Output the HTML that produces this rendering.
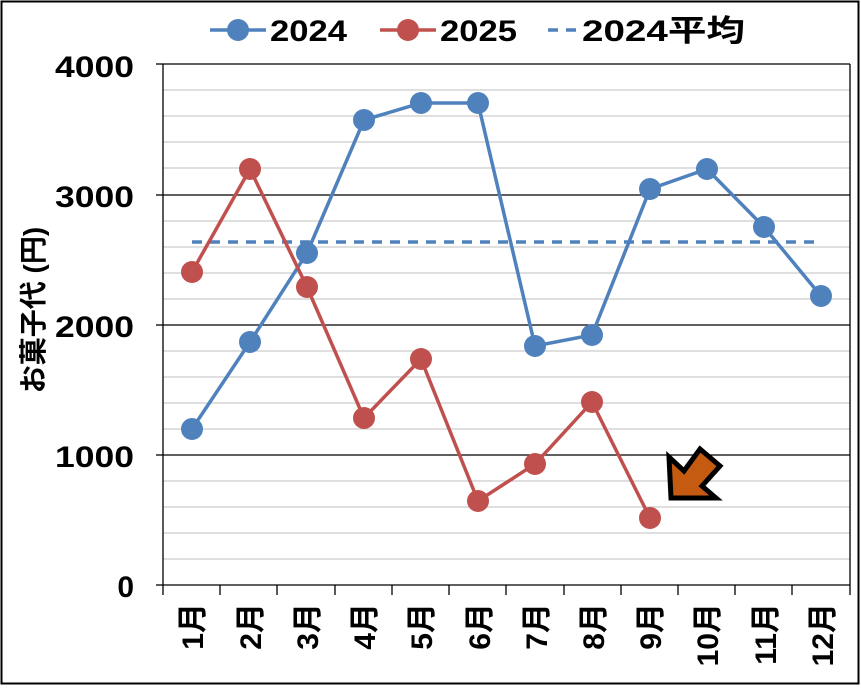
<!DOCTYPE html>
<html><head><meta charset="utf-8"><style>body{margin:0;background:#fff}</style></head><body>
<svg width="861" height="686" xmlns="http://www.w3.org/2000/svg" font-family="Liberation Sans, Noto Sans CJK JP, sans-serif" font-weight="bold">
<rect x="1.5" y="1.5" width="857" height="682" fill="#fff" stroke="#000" stroke-width="2"/>
<g stroke="#bfbfbf" stroke-width="1">
<line x1="163" x2="850" y1="90" y2="90"/><line x1="163" x2="850" y1="116" y2="116"/><line x1="163" x2="850" y1="142" y2="142"/><line x1="163" x2="850" y1="168" y2="168"/>
<line x1="163" x2="850" y1="221" y2="221"/><line x1="163" x2="850" y1="247" y2="247"/><line x1="163" x2="850" y1="273" y2="273"/><line x1="163" x2="850" y1="299" y2="299"/>
<line x1="163" x2="850" y1="351" y2="351"/><line x1="163" x2="850" y1="377" y2="377"/><line x1="163" x2="850" y1="403" y2="403"/><line x1="163" x2="850" y1="429" y2="429"/>
<line x1="163" x2="850" y1="481" y2="481"/><line x1="163" x2="850" y1="507" y2="507"/><line x1="163" x2="850" y1="533" y2="533"/><line x1="163" x2="850" y1="559" y2="559"/>
</g>
<g stroke="#000" stroke-width="1.3">
<line x1="163" x2="850" y1="64" y2="64"/><line x1="163" x2="850" y1="195" y2="195"/><line x1="163" x2="850" y1="325" y2="325"/><line x1="163" x2="850" y1="455" y2="455"/>
<line x1="163" x2="850" y1="585" y2="585"/><line x1="163" x2="163" y1="64" y2="595"/><line x1="850" x2="850" y1="64" y2="595"/>
<line x1="156" x2="163" y1="64" y2="64"/><line x1="156" x2="163" y1="195" y2="195"/><line x1="156" x2="163" y1="325" y2="325"/><line x1="156" x2="163" y1="455" y2="455"/><line x1="156" x2="163" y1="585" y2="585"/>
<line x1="220" x2="220" y1="585" y2="595"/><line x1="277" x2="277" y1="585" y2="595"/><line x1="335" x2="335" y1="585" y2="595"/><line x1="392" x2="392" y1="585" y2="595"/><line x1="449" x2="449" y1="585" y2="595"/><line x1="506" x2="506" y1="585" y2="595"/><line x1="564" x2="564" y1="585" y2="595"/><line x1="621" x2="621" y1="585" y2="595"/><line x1="678" x2="678" y1="585" y2="595"/><line x1="735" x2="735" y1="585" y2="595"/><line x1="792" x2="792" y1="585" y2="595"/>
</g>
<g font-size="30" text-anchor="end">
<text x="134" y="77" textLength="79" lengthAdjust="spacingAndGlyphs">4000</text><text x="134" y="207" textLength="79" lengthAdjust="spacingAndGlyphs">3000</text><text x="134" y="337" textLength="79" lengthAdjust="spacingAndGlyphs">2000</text><text x="134" y="467" textLength="79" lengthAdjust="spacingAndGlyphs">1000</text><text x="134" y="597">0</text>
</g>
<text transform="translate(43,310) rotate(-90)" font-size="28" text-anchor="middle">お菓子代 (円)</text>
<g font-size="30" text-anchor="end">
<text transform="translate(203,603) rotate(-90)">1月</text><text transform="translate(261,603) rotate(-90)">2月</text><text transform="translate(318,603) rotate(-90)">3月</text><text transform="translate(375,603) rotate(-90)">4月</text><text transform="translate(432,603) rotate(-90)">5月</text><text transform="translate(490,603) rotate(-90)">6月</text><text transform="translate(547,603) rotate(-90)">7月</text><text transform="translate(604,603) rotate(-90)">8月</text><text transform="translate(661,603) rotate(-90)">9月</text><text transform="translate(718,603) rotate(-90)">10月</text><text transform="translate(776,603) rotate(-90)">11月</text><text transform="translate(833,603) rotate(-90)">12月</text>
</g>
<line x1="192" x2="822" y1="242" y2="242" stroke="#4f81bd" stroke-width="3.5" stroke-dasharray="10,8"/>
<polyline fill="none" stroke="#4f81bd" stroke-width="3.5" points="192,429 250,342 307,253 364,120 421,103 478,103 535,346 592,335 650,189 707,169 764,227 821,296"/>
<g fill="#4f81bd"><circle cx="192" cy="429" r="11"/><circle cx="250" cy="342" r="11"/><circle cx="307" cy="253" r="11"/><circle cx="364" cy="120" r="11"/><circle cx="421" cy="103" r="11"/><circle cx="478" cy="103" r="11"/><circle cx="535" cy="346" r="11"/><circle cx="592" cy="335" r="11"/><circle cx="650" cy="189" r="11"/><circle cx="707" cy="169" r="11"/><circle cx="764" cy="227" r="11"/><circle cx="821" cy="296" r="11"/></g>
<polyline fill="none" stroke="#c0504d" stroke-width="3.5" points="192,272 250,169 307,287 364,418 421,359 478,501 535,464 592,402 650,518"/>
<g fill="#c0504d"><circle cx="192" cy="272" r="11"/><circle cx="250" cy="169" r="11"/><circle cx="307" cy="287" r="11"/><circle cx="364" cy="418" r="11"/><circle cx="421" cy="359" r="11"/><circle cx="478" cy="501" r="11"/><circle cx="535" cy="464" r="11"/><circle cx="592" cy="402" r="11"/><circle cx="650" cy="518" r="11"/></g>
<polygon points="671,498 669,457 684,471 700,449 720,466 702,486 716,498" fill="#c55a11" stroke="#000" stroke-width="5" stroke-linejoin="miter"/>
<g font-size="30">
<line x1="210" x2="266" y1="30" y2="30" stroke="#4f81bd" stroke-width="3.5"/><circle cx="238" cy="30" r="11" fill="#4f81bd"/><text x="270" y="41" textLength="77" lengthAdjust="spacingAndGlyphs">2024</text>
<line x1="380" x2="436" y1="30" y2="30" stroke="#c0504d" stroke-width="3.5"/><circle cx="408" cy="30" r="11" fill="#c0504d"/><text x="440" y="41" textLength="77" lengthAdjust="spacingAndGlyphs">2025</text>
<line x1="548" x2="576" y1="30" y2="30" stroke="#4f81bd" stroke-width="3.5" stroke-dasharray="10,8"/><text x="582" y="41" textLength="163" lengthAdjust="spacingAndGlyphs">2024平均</text>
</g>
</svg>
</body></html>
